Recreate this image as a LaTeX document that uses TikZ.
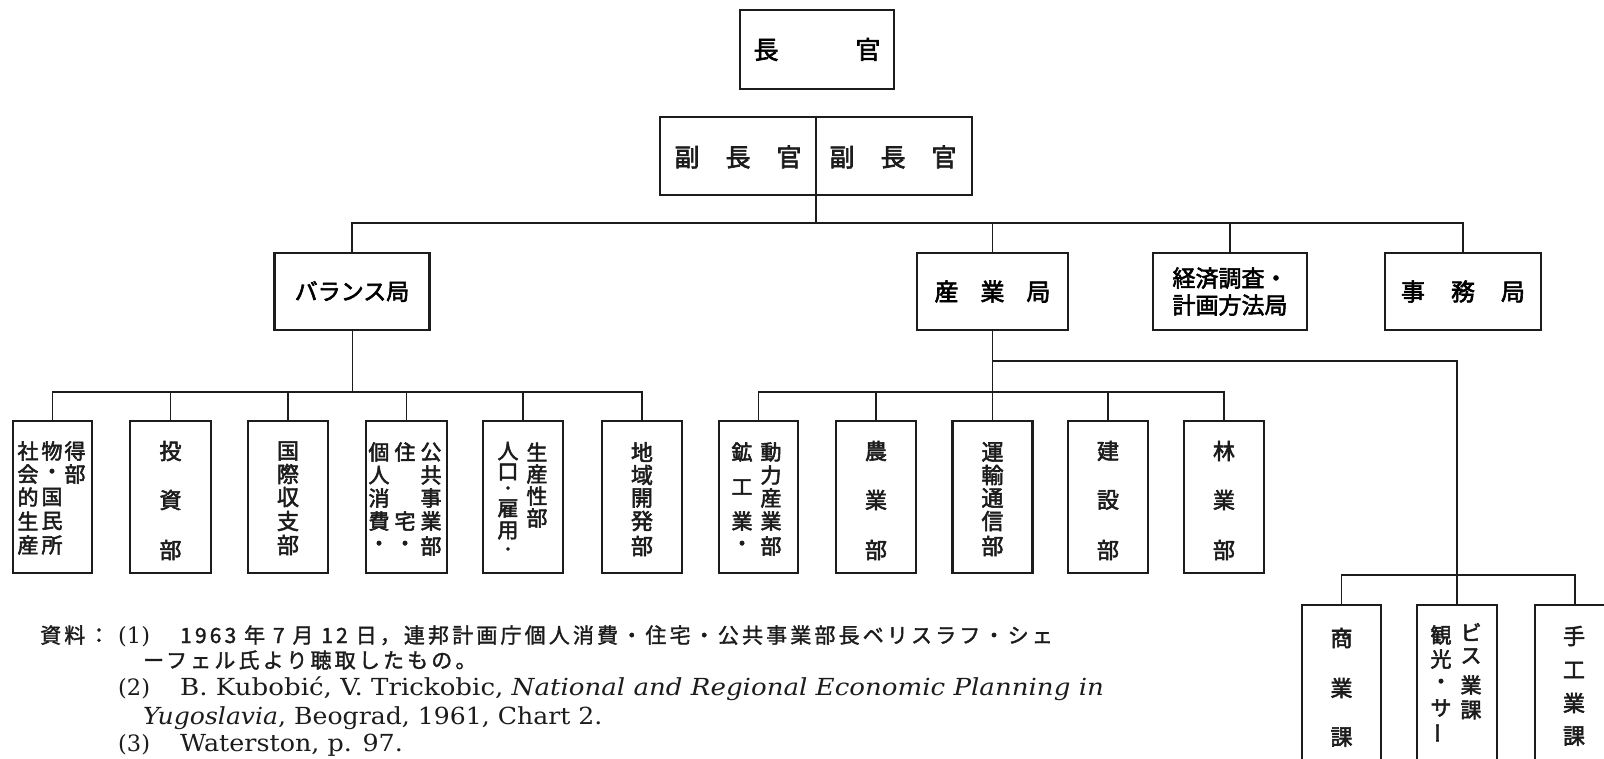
\documentclass[tikz,border=0pt]{standalone}
\usepackage{fontspec}
\setmainfont{DejaVu Serif}
\newfontfamily\jp{Noto Sans CJK JP}[FakeBold=2.5]
\newfontfamily\jpn{Noto Sans CJK JP}[FakeBold=1.5,LetterSpace=15]
\definecolor{ink}{HTML}{1C1C1C}
\tikzset{
  box/.style={draw=ink, line width=2.1pt, inner sep=0pt, rectangle},
  conn/.style={draw=ink, line width=1.8pt},
  thinconn/.style={draw=ink, line width=1pt},
  jc/.style={inner sep=0pt, text=ink, font=\jp\fontsize{#1}{#1}\selectfont},
  jc/.default=22,
  fn/.style={anchor=base west, inner sep=0pt, text=ink, font=\fontsize{23.5}{26}\selectfont},
  fnn/.style={anchor=base west, inner sep=0pt, text=ink, font=\fontsize{22.5}{26}\selectfont},
  fnj/.style={anchor=base west, inner sep=0pt, text=ink, font=\jpn\fontsize{21}{24}\selectfont},
}
\newcommand\jcol[4]{%
  \foreach \ch/\yy [count=\i] in {#4} {\node[jc=#3] (#1\i) at (#2,\yy) {\ch};}%
}
\begin{document}
\begin{tikzpicture}[x=1pt,y=-1pt]
\useasboundingbox[fill=white] (0,0) rectangle (1604,758);

% ---- top level
\node[box, minimum width=154, minimum height=79, font=\jp\fontsize{25}{25}\selectfont] (chief) at (817,49.5) {長\hspace{77pt}官};
\node[box, minimum width=312, minimum height=78] (dep) at (816,156) {};
\draw[conn] (dep.north) -- (dep.south);
\node[jc=25] (depL) at (738,157) {副\hspace{26pt}長\hspace{26pt}官};
\node[jc=25] (depR) at (893,157) {副\hspace{26pt}長\hspace{26pt}官};

% ---- second level
\node[box, minimum width=155, minimum height=77, font=\jp\fontsize{23}{23}\selectfont] (bal) at (352,291.5) {バランス局};
\node[box, minimum width=151, minimum height=77, font=\jp\fontsize{24}{24}\selectfont] (ind) at (992.5,291.5) {産\hspace{22pt}業\hspace{22pt}局};
\node[box, minimum width=154, minimum height=77, align=center, font=\jp\fontsize{23}{27}\selectfont] (eco) at (1230,291.5) {経済調査・\\計画方法局};
\node[box, minimum width=156, minimum height=77, font=\jp\fontsize{24}{24}\selectfont] (jim) at (1463,291.5) {事\hspace{26pt}務\hspace{26pt}局};

\coordinate (busA) at (816,223);
\draw[conn] (dep.south) -- (busA);
\draw[conn] (bal.north) |- (busA) -| (jim.north);
\draw[conn] (ind.north) -- (ind.north |- busA);
\draw[conn] (eco.north) -- (eco.north |- busA);

% ---- balance departments
\node[box, minimum width=79, minimum height=152] (b1) at (52.5,497) {};
\node[box, minimum width=81, minimum height=152] (b2) at (170.5,497) {};
\node[box, minimum width=80, minimum height=152] (b3) at (288,497) {};
\node[box, minimum width=81, minimum height=152] (b4) at (406.5,497) {};
\node[box, minimum width=80, minimum height=152] (b5) at (523,497) {};
\node[box, minimum width=80, minimum height=152] (b6) at (642,497) {};

\coordinate (busB) at (352,392);
\draw[thinconn] (bal.south) -- (busB);
\draw[conn] (b1.north) |- (busB) -| (b6.north);
\foreach \n in {b2,b3,b4,b5} \draw[conn] (\n.north) -- (\n.north |- busB);

\jcol{b1a}{28}{21}{社/451,会/474,的/497,生/521,産/545}
\jcol{b1b}{52}{21}{物/451,・/474,国/497,民/521,所/545}
\jcol{b1c}{75}{21}{得/451,部/474}
\jcol{b2a}{170.5}{22}{投/451,資/500,部/550}
\jcol{b3a}{288}{22}{国/451,際/474,収/497,支/521,部/545}
\jcol{b4a}{379}{21}{個/452,人/475,消/498,費/521,・/546}
\jcol{b4b}{405}{21}{住/452,宅/521,・/546}
\jcol{b4c}{431}{21}{公/452,共/475,事/498,業/521,部/546}
\jcol{b5a}{508}{21}{人/451,口/472,雇/508.5,用/530.5}
\node[jc=15] (b5a5) at (508,490) {・};
\node[jc=15] (b5a6) at (508,551) {・};
\jcol{b5b}{537}{21}{生/452,産/474,性/496,部/518}
\jcol{b6a}{642}{22}{地/452,域/475,開/498,発/521,部/546}

% ---- industry departments
\node[box, minimum width=79, minimum height=152] (m1) at (758.5,497) {};
\node[box, minimum width=80, minimum height=152] (m2) at (876,497) {};
\node[box, minimum width=80, minimum height=152] (m3) at (992.5,497) {};
\node[box, minimum width=80, minimum height=152] (m4) at (1108,497) {};
\node[box, minimum width=80, minimum height=152] (m5) at (1224,497) {};

\coordinate (busC) at (992.5,392);
\draw[thinconn] (ind.south) -- (busC);
\draw[conn] (m1.north) |- (busC) -| (m5.north);
\foreach \n in {m2,m3,m4} \draw[conn] (\n.north) -- (\n.north |- busC);

\jcol{m1a}{742}{21}{鉱/452,工/487,業/521,・/546}
\jcol{m1b}{771}{21}{動/452,力/475,産/498,業/521,部/546}
\jcol{m2a}{876}{22}{農/451,業/500,部/550}
\jcol{m3a}{992.5}{22}{運/452,輸/475,通/498,信/521,部/546}
\jcol{m4a}{1108}{22}{建/451,設/500,部/550}
\jcol{m5a}{1224}{22}{林/451,業/500,部/550}

% ---- sections
\node[box, minimum width=79, minimum height=170] (k1) at (1341.5,690) {};
\node[box, minimum width=80, minimum height=170] (k2) at (1457,690) {};
\node[box, minimum width=80, minimum height=170] (k3) at (1575,690) {};

\coordinate (brY) at (0,361);
\coordinate (busD) at (1457,575);
\draw[conn] (ind.south |- brY) -| (k2.north);
\draw[conn] (k1.north) |- (busD) -| (k3.north);

\jcol{k1a}{1341.5}{22}{商/638,業/688,課/737}
\jcol{k2a}{1441}{21}{観/635,光/659,・/684,サ/708}
\node[jc=21, rotate=90] (k2a5) at (1441,733) {ー};
\jcol{k2b}{1471}{21}{ビ/632,ス/656,業/685,課/710}
\jcol{k3a}{1574}{22}{手/636,工/670,業/703,課/736}

% ---- notes
\node[fnj] (n1a) at (40,643) {資料：};
\node[fnn] (n1b) at (118,643) {(1)};
\node[fnj] (n1c) at (180,643) {1963 年 7 月 12 日，連邦計画庁個人消費・住宅・公共事業部長ベリスラフ・シェ};
\node[fnj] (n2) at (143,668) {ーフェル氏より聴取したもの。};
\node[fnn] (n3a) at (118,695) {(2)};
\node[fn] (n3b) at (180,695) {\scalebox{1.11}[1]{B. Kubobić, V. Trickobic, \textit{National and Regional Economic Planning in}}};
\node[fn] (n4) at (143,724) {\scalebox{1.07}[1]{\textit{Yugoslavia}, Beograd, 1961, Chart 2.}};
\node[fnn] (n5a) at (118,751) {(3)};
\node[fn] (n5b) at (180,751) {\scalebox{1.08}[1]{Waterston, p. 97.}};
\end{tikzpicture}
\end{document}
